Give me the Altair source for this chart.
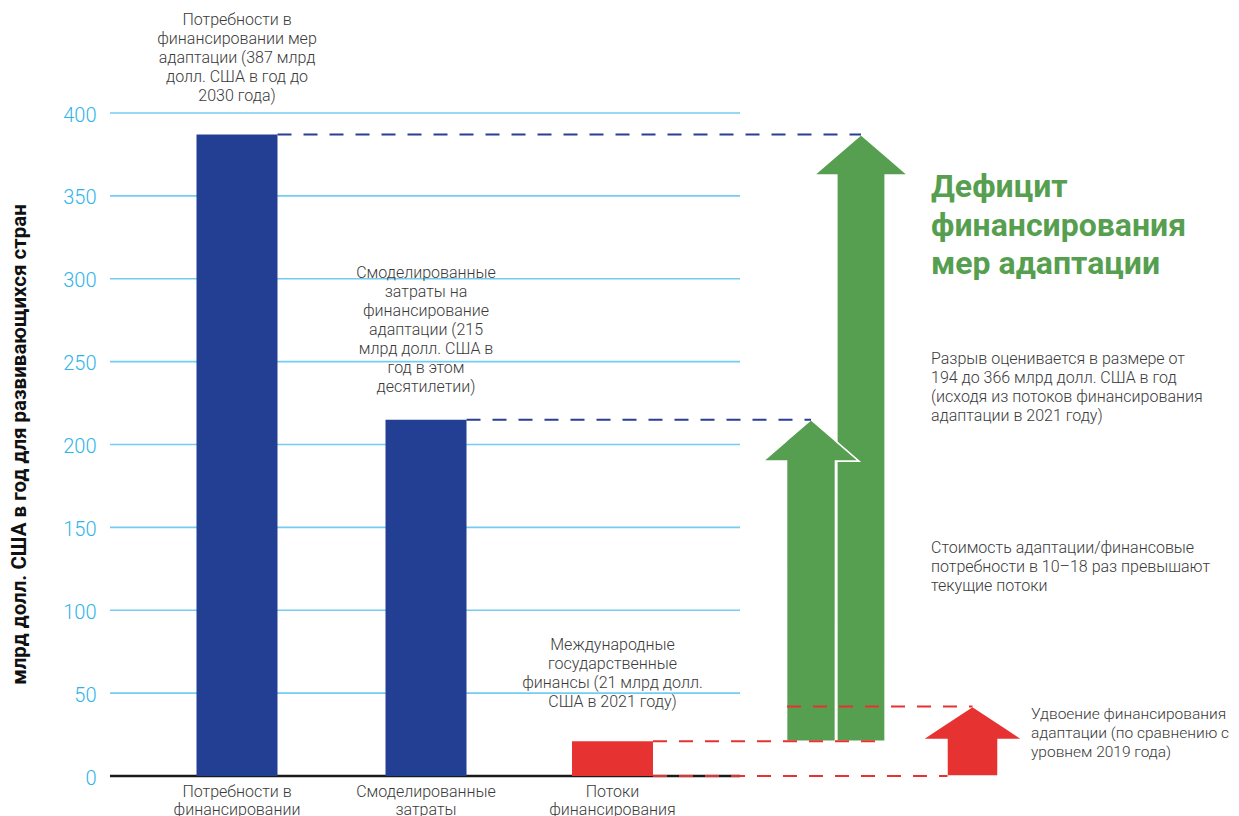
import altair as alt
import pandas as pd

# ---------------- data ----------------
categories = ["Потребности в\nфинансировании", "Смоделированные\nзатраты", "Потоки\nфинансирования"]
values = [387, 215, 21]
bar_colors = ["#233f94", "#233f94", "#e63332"]
annotations = [
    "Потребности в\nфинансировании мер\nадаптации (387 млрд\nдолл. США в год до\n2030 года)",
    "Смоделированные\nзатраты на\nфинансирование\nадаптации (215\nмлрд долл. США в\nгод в этом\nдесятилетии)",
    "Международные\nгосударственные\nфинансы (21 млрд долл.\nСША в 2021 году)",
]
y_ticks = [0, 50, 100, 150, 200, 250, 300, 350, 400]
doubled_flow = 42  # удвоение по сравнению с уровнем 2019 года
y_title = "млрд долл. США в год для развивающихся стран"
gap_title = "Дефицит\nфинансирования\nмер адаптации"
notes = [
    "Разрыв оценивается в размере от\n194 до 366 млрд долл. США в год\n(исходя из потоков финансирования\nадаптации в 2021 году)",
    "Стоимость адаптации/финансовые\nпотребности в 10–18 раз превышают\nтекущие потоки",
]
note_double = "Удвоение финансирования\nадаптации (по сравнению с\nуровнем 2019 года)"

# ---------------- layout ----------------
W, H = 1121, 663
GREEN = "#579f50"
BLUE = "#2a3f93"
RED = "#e63332"
TEXT = "#3a3a3a"
FONT = "Roboto"

bar_x = [127, 316, 502.5]
bar_half = 40.5
grid_end = 630
ann_y = [453, 300.5, 76]
cat_y = -12.5

xscale = alt.Scale(domain=[0, W], nice=False, zero=False)
yscale = alt.Scale(domain=[0, 400], nice=False, zero=True)
yaxis = alt.Axis(values=y_ticks, grid=False, domain=False, ticks=False,
                 labelColor="#2fb4e9", labelFontSize=20, labelFont=FONT,
                 labelFontWeight=300, labelPadding=14, labelBaseline="middle",
                 labelOffset=2, title=None)


def X(f):
    return alt.X(f, type="quantitative", scale=xscale, axis=None)


def Y(f, stack=False):
    if stack:
        return alt.Y(f, type="quantitative", scale=yscale, axis=yaxis, stack=None)
    return alt.Y(f, type="quantitative", scale=yscale, axis=yaxis)


# gridlines
grid_df = pd.DataFrame({"y": [t for t in y_ticks if t > 0], "x1": 0, "x2": grid_end})
grid = alt.Chart(grid_df).mark_rule(color="#72cdf0", strokeWidth=1.6).encode(
    x=X("x1"), x2="x2", y=Y("y"))

base_df = pd.DataFrame({"y": [0], "x1": [0], "x2": [grid_end]})
baseline = alt.Chart(base_df).mark_rule(color="#1a1a1a", strokeWidth=2.5).encode(
    x=X("x1"), x2="x2", y=Y("y"))

# bars
bars_df = pd.DataFrame({
    "cat": categories, "v": values, "c": bar_colors,
    "x1": [b - bar_half for b in bar_x], "x2": [b + bar_half for b in bar_x],
    "zero": 0,
})
bars = alt.Chart(bars_df).mark_rect().encode(
    x=X("x1"), x2="x2", y=Y("zero"), y2="v",
    color=alt.Color("c:N", scale=None))

# arrows
EPS = 0.05


def arrow_df(cx, hw, sw, top, bottom, hh):
    base = top - hh
    yd = base + hh * (hw - sw) / hw
    pts = [
        (cx - hw, base, base),
        (cx - sw, yd, base),
        (cx - sw + EPS, yd + hh * EPS / hw, bottom),
        (cx, top, bottom),
        (cx + sw - EPS, yd + hh * EPS / hw, bottom),
        (cx + sw, yd, base),
        (cx + hw, base, base),
    ]
    return pd.DataFrame({"x": [p[0] for p in pts],
                         "y": [p[1] for p in pts], "y2": [p[2] for p in pts]})


def arrow_layer(df, color):
    return alt.Chart(df).mark_area(color=color, stroke="white", strokeWidth=1.6,
                                   interpolate="linear", opacity=1).encode(
        x=X("x"), y=Y("y", stack=True), y2="y2")


big_arrow = arrow_layer(arrow_df(751, 47, 24.2, values[0], values[2], 24.5), GREEN)
small_arrow = arrow_layer(arrow_df(701, 48, 24.5, values[1], values[2], 25), GREEN)
red_arrow = arrow_layer(arrow_df(862.5, 50.5, 25.6, doubled_flow, 0, 20), RED)

# dashed connectors
blue_df = pd.DataFrame({"y": [values[0], values[1]],
                        "x1": [bar_x[0] + bar_half, bar_x[1] + bar_half],
                        "x2": [751, 701]})
blue_dash = alt.Chart(blue_df).mark_rule(color=BLUE, strokeWidth=2, strokeDash=[14, 12]).encode(
    x=X("x1"), x2="x2", y=Y("y"))

red_df = pd.DataFrame({"y": [doubled_flow, values[2], 0],
                       "x1": [677, bar_x[2] + bar_half, bar_x[2] + bar_half],
                       "x2": [862.5, 776, 837.5]})
red_dash = alt.Chart(red_df).mark_rule(color=RED, strokeWidth=2, strokeDash=[14, 12]).encode(
    x=X("x1"), x2="x2", y=Y("y"))

# texts
ann_df = pd.DataFrame({"x": bar_x, "y": ann_y, "t": annotations})
ann = alt.Chart(ann_df).mark_text(align="center", baseline="alphabetic", lineBreak="\n",
                                  fontSize=16, lineHeight=19, font=FONT, color=TEXT,
                                  fontWeight=300).encode(
    x=X("x"), y=Y("y"), text="t:N")

cat_df = pd.DataFrame({"x": bar_x, "y": cat_y, "t": categories})
cats = alt.Chart(cat_df).mark_text(align="center", baseline="alphabetic", lineBreak="\n",
                                   fontSize=16, lineHeight=18, font=FONT, color=TEXT,
                                   fontWeight=300).encode(
    x=X("x"), y=Y("y"), text="t:N")

ytitle_df = pd.DataFrame({"x": [-90], "y": [200], "t": [y_title]})
ytitle = alt.Chart(ytitle_df).mark_text(align="center", baseline="middle", angle=270,
                                        fontSize=20.5, font=FONT, fontWeight="bold",
                                        color="#111111").encode(
    x=X("x"), y=Y("y"), text="t:N")

gt_df = pd.DataFrame({"x": [821], "y": [349.3], "t": [gap_title]})
gtitle = alt.Chart(gt_df).mark_text(align="left", baseline="alphabetic", lineBreak="\n",
                                    fontSize=32, lineHeight=38.5, font=FONT,
                                    fontWeight="bold", color=GREEN).encode(
    x=X("x"), y=Y("y"), text="t:N")

notes_df = pd.DataFrame({"x": [821, 821], "y": [248.6, 134.5], "t": notes})
notes_l = alt.Chart(notes_df).mark_text(align="left", baseline="alphabetic", lineBreak="\n",
                                        fontSize=16, lineHeight=19, font=FONT, color=TEXT,
                                        fontWeight=300).encode(
    x=X("x"), y=Y("y"), text="t:N")

nd_df = pd.DataFrame({"x": [921], "y": [34.5], "t": [note_double]})
note_d = alt.Chart(nd_df).mark_text(align="left", baseline="alphabetic", lineBreak="\n",
                                    fontSize=15.5, lineHeight=19, font=FONT, color=TEXT,
                                    fontWeight=300).encode(
    x=X("x"), y=Y("y"), text="t:N")

chart = alt.layer(
    grid, baseline, bars, big_arrow, small_arrow, red_arrow,
    blue_dash, red_dash, ann, cats, ytitle, gtitle, notes_l, note_d,
).properties(
    width=W, height=H,
    autosize=alt.AutoSizeParams(type="none"),
    padding={"left": 102, "top": 105, "right": 0, "bottom": 40},
).configure_view(stroke=None)

chart.save("out.html", embed_options={"renderer": "svg", "actions": False})
